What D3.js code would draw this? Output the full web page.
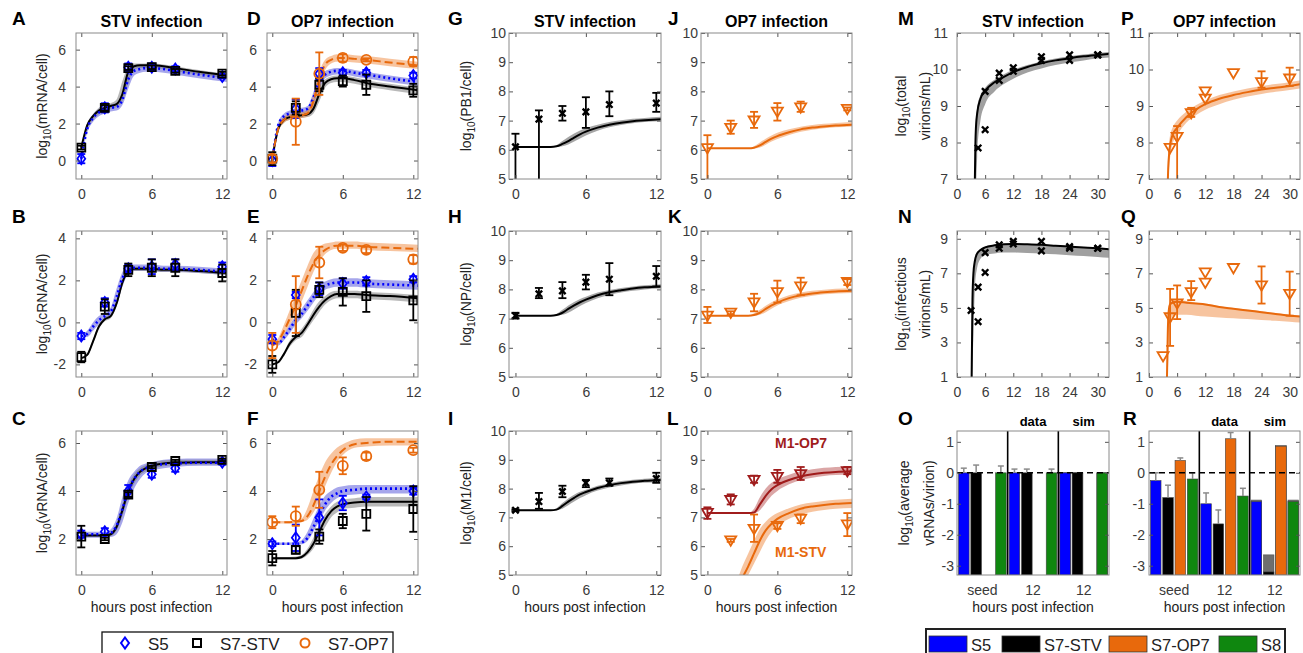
<!DOCTYPE html>
<html>
<head>
<meta charset="utf-8">
<script src="https://cdn.jsdelivr.net/npm/d3@7"></script>
<style>
body { margin: 0; background: #fff; }
</style>
</head>
<body>
<svg id="chart" width="1303" height="653"></svg>
<script>
// ---------- data ----------
var tObs = [0, 2, 4, 6, 8, 12];
var tRna = [0, 0.5, 1, 1.5, 2, 2.5, 3, 3.5, 4, 4.5, 5, 5.5, 6, 7, 8, 10, 12.4];
var tProt = [0, 1, 2, 3, 3.5, 4, 4.5, 5, 5.5, 6, 7, 8, 9, 10, 11, 12.4];

// A: mRNA, STV infection
var A_S5 = [0.1, 2.85, 5.05, 5.05, 4.95, 4.55], A_S5err = [0.25, 0.25, 0.2, 0.2, 0.15, 0.1];
var A_STV = [0.7, 2.85, 5.0, 5.05, 4.85, 4.7], A_STVerr = [0.1, 0.15, 0.1, 0.1, 0.1, 0.1];
var simA_STV = [0.7,1.9,2.4,2.7,2.85,2.95,3.05,3.6,4.8,5.1,5.15,5.15,5.15,5.1,5.0,4.8,4.6];
var simA_STVlo = [0.7,1.7,2.2,2.5,2.7,2.8,2.9,3.2,4.2,4.9,5.0,5.0,5.0,4.95,4.85,4.65,4.45];
var simA_STVhi = [0.7,2.0,2.5,2.85,3.0,3.1,3.3,4.3,5.1,5.25,5.25,5.25,5.25,5.2,5.1,4.9,4.7];
var simA_S5 = [0.1,1.7,2.3,2.6,2.75,2.85,2.9,3.3,4.4,4.85,4.95,5.0,5.0,4.95,4.85,4.65,4.45];
var simA_S5lo = [0.1,1.5,2.1,2.4,2.55,2.65,2.7,3.0,3.9,4.6,4.75,4.8,4.8,4.75,4.65,4.45,4.25];
var simA_S5hi = [0.1,1.9,2.5,2.8,2.95,3.05,3.1,3.6,4.8,5.05,5.1,5.15,5.15,5.1,5.0,4.8,4.6];

// D: mRNA, OP7 infection
var D_S5 = [0.0, 2.8, 4.7, 4.75, 4.75, 4.6], D_S5err = [0.3, 0.5, 0.3, 0.15, 0.15, 0.15];
var D_STV = [0.1, 2.85, 4.1, 4.3, 4.1, 3.8], D_STVerr = [0.35, 0.35, 0.35, 0.3, 0.55, 0.35];
var D_OP7 = [0.1, 2.1, 4.7, 5.55, 5.45, 5.35], D_OP7err = [0.2, 1.25, 1.15, 0.2, 0.08, 0.25];
var simD_STV = [0.1,1.7,2.2,2.35,2.4,2.45,2.5,2.8,3.6,4.2,4.4,4.45,4.45,4.35,4.2,4.0,3.8];
var simD_STVlo = [0.1,1.55,2.05,2.2,2.25,2.3,2.35,2.55,3.2,3.95,4.2,4.25,4.25,4.15,4.0,3.8,3.6];
var simD_STVhi = [0.1,1.85,2.35,2.5,2.55,2.6,2.7,3.2,4.0,4.4,4.55,4.6,4.6,4.5,4.35,4.15,3.95];
var simD_S5 = [0.0,1.9,2.4,2.55,2.65,2.7,2.8,3.4,4.3,4.65,4.8,4.85,4.85,4.75,4.65,4.45,4.25];
var simD_S5lo = [0.0,1.75,2.25,2.4,2.5,2.55,2.65,3.1,3.9,4.45,4.6,4.65,4.65,4.55,4.45,4.25,4.05];
var simD_S5hi = [0.0,2.05,2.55,2.7,2.8,2.85,2.95,3.7,4.6,4.85,4.95,5.0,5.0,4.9,4.8,4.6,4.4];
var simD_OP7 = [0.1,1.7,2.2,2.35,2.4,2.45,2.55,3.2,4.4,5.2,5.45,5.55,5.55,5.5,5.45,5.3,5.15];
var simD_OP7lo = [0.1,1.55,2.05,2.2,2.25,2.3,2.4,2.9,4.0,4.9,5.25,5.35,5.35,5.3,5.25,5.1,4.95];
var simD_OP7hi = [0.1,1.85,2.35,2.5,2.55,2.6,2.75,3.6,4.8,5.45,5.65,5.75,5.75,5.7,5.65,5.5,5.35];

// B: cRNA, STV infection
var B_S5 = [-0.65, 0.95, 2.55, 2.65, 2.75, 2.65], B_S5err = [0.15, 0.2, 0.2, 0.35, 0.25, 0.2];
var B_STV = [-1.65, 0.75, 2.5, 2.6, 2.6, 2.35], B_STVerr = [0.25, 0.35, 0.3, 0.4, 0.4, 0.4];
var simB_STV = [-1.7,-1.55,-0.9,-0.2,0.15,0.3,0.9,1.9,2.45,2.55,2.55,2.55,2.55,2.5,2.5,2.45,2.35];
var simB_STVlo = [-1.7,-1.6,-1.0,-0.3,0.05,0.2,0.75,1.75,2.35,2.45,2.45,2.45,2.45,2.4,2.4,2.35,2.25];
var simB_STVhi = [-1.7,-1.5,-0.8,-0.1,0.25,0.4,1.05,2.05,2.55,2.65,2.65,2.65,2.65,2.6,2.6,2.55,2.45];
var simB_S5 = [-0.65,-0.55,-0.2,0.1,0.3,0.5,1.2,2.1,2.5,2.6,2.6,2.6,2.6,2.55,2.55,2.5,2.4];
var simB_S5lo = [-0.65,-0.7,-0.4,-0.1,0.15,0.3,0.8,1.7,2.3,2.45,2.45,2.45,2.45,2.4,2.4,2.35,2.25];
var simB_S5hi = [-0.65,-0.4,0.0,0.3,0.45,0.7,1.6,2.4,2.7,2.75,2.75,2.75,2.75,2.7,2.7,2.65,2.55];

// E: cRNA, OP7 infection
var E_S5 = [-0.8, 1.3, 1.6, 1.85, 1.95, 2.05], E_S5err = [0.2, 0.15, 0.3, 0.25, 0.2, 0.15];
var E_STV = [-2.0, 0.45, 1.55, 1.45, 1.25, 1.05], E_STVerr = [0.4, 1.1, 0.35, 0.65, 0.75, 0.95];
var E_OP7 = [-1.1, 0.85, 2.85, 3.55, 3.45, 3.0], E_OP7err = [0.6, 1.35, 0.75, 0.15, 0.15, 0.2];
var simE_OP7 = [-1.1,-0.9,-0.4,0.2,0.8,1.5,2.2,2.8,3.2,3.45,3.6,3.65,3.65,3.65,3.6,3.55,3.5];
var simE_OP7lo = [-1.1,-1.05,-0.6,-0.1,0.4,1.0,1.7,2.4,2.9,3.25,3.45,3.5,3.5,3.5,3.45,3.4,3.35];
var simE_OP7hi = [-1.1,-0.75,-0.1,0.6,1.3,2.0,2.7,3.3,3.6,3.75,3.8,3.85,3.85,3.85,3.8,3.75,3.7];
var simE_S5 = [-0.8,-1.0,-0.7,-0.3,0.1,0.4,0.8,1.2,1.55,1.75,1.85,1.9,1.9,1.9,1.85,1.8,1.75];
var simE_S5lo = [-0.8,-1.1,-0.85,-0.5,-0.1,0.2,0.55,0.95,1.3,1.55,1.65,1.7,1.7,1.7,1.65,1.6,1.55];
var simE_S5hi = [-0.8,-0.9,-0.55,-0.1,0.3,0.65,1.05,1.45,1.8,1.95,2.05,2.1,2.1,2.1,2.05,2.0,1.95];
var simE_STV = [-2.0,-1.9,-1.5,-1.0,-0.7,-0.5,-0.1,0.35,0.75,1.05,1.25,1.35,1.35,1.35,1.3,1.25,1.15];
var simE_STVlo = [-2.0,-1.95,-1.6,-1.15,-0.85,-0.7,-0.3,0.1,0.5,0.85,1.05,1.15,1.15,1.15,1.1,1.05,0.95];
var simE_STVhi = [-2.0,-1.85,-1.4,-0.85,-0.55,-0.3,0.1,0.6,1.0,1.25,1.45,1.5,1.5,1.5,1.45,1.4,1.3];

// C: vRNA, STV infection
var C_S5 = [2.2, 2.3, 4.0, 4.7, 4.95, 5.2], C_S5err = [0.15, 0.15, 0.25, 0.15, 0.15, 0.1];
var C_STV = [2.1, 2.0, 3.85, 5.0, 5.25, 5.3], C_STVerr = [0.45, 0.05, 0.1, 0.05, 0.05, 0.05];
var simC_STV = [2.15,2.15,2.15,2.15,2.15,2.2,2.5,3.2,4.0,4.5,4.8,4.95,5.05,5.15,5.18,5.2,5.2];
var simC_STVlo = [2.1,2.1,2.1,2.1,2.1,2.12,2.35,2.95,3.75,4.3,4.65,4.82,4.92,5.03,5.07,5.1,5.1];
var simC_STVhi = [2.2,2.2,2.2,2.2,2.2,2.28,2.65,3.45,4.25,4.7,4.95,5.08,5.18,5.27,5.3,5.3,5.3];
var simC_S5 = [2.2,2.2,2.2,2.2,2.2,2.25,2.55,3.25,4.05,4.5,4.8,4.95,5.05,5.12,5.15,5.18,5.18];
var simC_S5lo = [2.05,2.05,2.05,2.05,2.05,2.08,2.2,2.7,3.5,4.1,4.5,4.75,4.85,4.95,5.0,5.05,5.05];
var simC_S5hi = [2.3,2.3,2.3,2.3,2.3,2.4,2.85,3.75,4.45,4.8,5.05,5.15,5.2,5.3,5.33,5.35,5.35];

// F: vRNA, OP7 infection
var F_S5 = [1.8, 2.05, 2.9, 3.5, 3.75, 4.0], F_S5err = [0.1, 0.55, 0.75, 0.3, 0.1, 0.15];
var F_STV = [1.2, 1.55, 2.1, 2.75, 3.05, 3.25], F_STVerr = [0.3, 0.15, 0.3, 0.3, 0.7, 0.95];
var F_OP7 = [2.7, 2.95, 4.05, 5.05, 5.45, 5.7], F_OP7err = [0.25, 0.4, 0.75, 0.35, 0.15, 0.1];
var simF_OP7 = [2.7,2.7,2.7,2.7,2.72,2.75,2.95,3.4,4.0,4.6,5.1,5.45,5.7,5.95,6.0,6.05,6.05];
var simF_OP7lo = [2.65,2.65,2.65,2.65,2.67,2.7,2.8,3.1,3.6,4.2,4.75,5.2,5.5,5.8,5.85,5.9,5.9];
var simF_OP7hi = [2.75,2.75,2.75,2.75,2.77,2.85,3.3,4.0,4.65,5.2,5.55,5.8,5.95,6.15,6.2,6.2,6.2];
var simF_S5 = [1.8,1.8,1.8,1.8,1.8,1.85,2.05,2.5,3.0,3.45,3.75,3.9,4.0,4.05,4.1,4.1,4.1];
var simF_S5lo = [1.75,1.75,1.75,1.75,1.75,1.78,1.92,2.3,2.75,3.2,3.5,3.7,3.8,3.85,3.9,3.9,3.9];
var simF_S5hi = [1.85,1.85,1.85,1.85,1.87,1.95,2.3,2.85,3.4,3.8,4.0,4.15,4.2,4.25,4.25,4.25,4.25];
var simF_STV = [1.2,1.2,1.2,1.2,1.2,1.25,1.45,1.8,2.3,2.8,3.15,3.35,3.45,3.52,3.55,3.55,3.55];
var simF_STVlo = [1.15,1.15,1.15,1.15,1.15,1.18,1.33,1.6,2.05,2.5,2.9,3.1,3.25,3.3,3.35,3.35,3.35];
var simF_STVhi = [1.25,1.25,1.25,1.25,1.27,1.33,1.6,2.05,2.6,3.05,3.35,3.55,3.65,3.7,3.75,3.75,3.75];

// G-L: proteins (obs value, lower and upper error bar ends)
var G_obs = [6.1, 7.05, 7.25, 7.3, 7.55, 7.6], G_lo = [4.5, 4.5, 7.0, 6.75, 7.15, 7.3], G_hi = [6.55, 7.35, 7.5, 7.8, 8.0, 7.95];
var H_obs = [7.1, 7.85, 7.95, 8.25, 8.35, 8.45], H_lo = [7.0, 7.7, 7.7, 8.0, 7.8, 8.1], H_hi = [7.2, 8.05, 8.25, 8.5, 8.9, 8.8];
var I_obs = [7.25, 7.55, 7.9, 8.2, 8.2, 8.35], I_lo = [7.22, 7.3, 7.7, 8.05, 8.1, 8.2], I_hi = [7.28, 7.85, 8.1, 8.3, 8.35, 8.55];
var J_obs = [6.05, 6.75, 7.0, 7.3, 7.45, 7.4], J_lo = [4.5, 6.55, 6.75, 7.0, 7.3, 7.35], J_hi = [6.5, 7.0, 7.3, 7.6, 7.65, 7.45];
var K_obs = [7.1, 7.2, 7.55, 7.9, 8.1, 8.25], K_lo = [6.85, 7.15, 7.25, 7.55, 7.8, 8.15], K_hi = [7.4, 7.25, 7.85, 8.3, 8.4, 8.35];
var L_OP7 = [7.15, 7.6, 8.3, 8.4, 8.5, 8.6], L_OP7lo = [6.95, 7.45, 8.2, 8.2, 8.3, 8.5], L_OP7hi = [7.35, 7.8, 8.45, 8.65, 8.75, 8.75];
var L_STV = [null, 6.2, 6.6, 6.7, 6.95, 6.75], L_STVlo = [null, 6.15, 6.15, 6.6, 6.8, 6.35], L_STVhi = [null, 6.25, 7.1, 6.8, 7.1, 7.15];
var simG = [6.1,6.1,6.1,6.1,6.12,6.2,6.3,6.42,6.53,6.62,6.76,6.86,6.93,6.98,7.01,7.05];
var simGlo = [6.1,6.1,6.1,6.1,6.1,6.12,6.18,6.28,6.39,6.49,6.65,6.77,6.85,6.91,6.95,6.98];
var simGhi = [6.1,6.1,6.1,6.1,6.16,6.3,6.44,6.56,6.66,6.74,6.86,6.95,7.01,7.06,7.09,7.13];
var simH = [7.1,7.1,7.1,7.1,7.12,7.2,7.33,7.45,7.56,7.65,7.8,7.9,7.97,8.03,8.07,8.1];
var simHlo = [7.1,7.1,7.1,7.1,7.1,7.13,7.2,7.31,7.43,7.53,7.7,7.81,7.89,7.95,8.0,8.03];
var simHhi = [7.1,7.1,7.1,7.1,7.16,7.3,7.45,7.57,7.67,7.75,7.89,7.98,8.05,8.1,8.14,8.18];
var simI = [7.25,7.25,7.25,7.25,7.27,7.4,7.55,7.68,7.8,7.88,8.02,8.12,8.19,8.24,8.27,8.3];
var simIlo = [7.25,7.25,7.25,7.25,7.25,7.3,7.42,7.55,7.67,7.77,7.93,8.04,8.11,8.17,8.2,8.23];
var simIhi = [7.25,7.25,7.25,7.25,7.32,7.5,7.66,7.79,7.89,7.96,8.1,8.19,8.26,8.31,8.34,8.38];
var simJ = [6.05,6.05,6.05,6.05,6.05,6.07,6.15,6.27,6.38,6.47,6.6,6.7,6.76,6.8,6.83,6.86];
var simJlo = [6.05,6.05,6.05,6.05,6.05,6.05,6.08,6.17,6.28,6.37,6.51,6.62,6.69,6.74,6.77,6.8];
var simJhi = [6.05,6.05,6.05,6.05,6.05,6.12,6.25,6.38,6.49,6.58,6.7,6.79,6.85,6.89,6.92,6.95];
var simK = [7.1,7.1,7.1,7.1,7.1,7.12,7.2,7.33,7.45,7.55,7.7,7.8,7.86,7.9,7.93,7.95];
var simKlo = [7.1,7.1,7.1,7.1,7.1,7.1,7.13,7.22,7.34,7.45,7.6,7.71,7.78,7.83,7.86,7.88];
var simKhi = [7.1,7.1,7.1,7.1,7.1,7.18,7.3,7.44,7.56,7.65,7.8,7.89,7.95,7.99,8.02,8.04];
var simL_OP7 = [7.15,7.15,7.15,7.15,7.15,7.17,7.45,7.75,7.98,8.12,8.3,8.42,8.5,8.55,8.58,8.6];
var simL_OP7lo = [7.15,7.15,7.15,7.15,7.15,7.15,7.25,7.5,7.75,7.92,8.15,8.3,8.38,8.44,8.47,8.5];
var simL_OP7hi = [7.15,7.15,7.15,7.15,7.15,7.3,7.7,8.0,8.2,8.32,8.48,8.6,8.67,8.72,8.75,8.78];
var simL_STV = [2.5,3.3,4.0,4.9,5.3,5.75,6.2,6.55,6.78,6.95,7.15,7.3,7.38,7.43,7.47,7.5];
var simL_STVlo = [2.3,3.1,3.8,4.6,5.0,5.4,5.8,6.2,6.5,6.7,6.95,7.1,7.2,7.26,7.3,7.33];
var simL_STVhi = [2.7,3.5,4.2,5.3,5.75,6.2,6.6,6.85,7.03,7.15,7.32,7.45,7.52,7.57,7.61,7.65];

// M-Q: virions
var tVir = [3, 4.5, 6, 9, 12, 18, 24, 30];
var M_rep1 = [null, 7.85, 9.4, 9.9, 10.05, 10.35, 10.4, 10.4];
var M_rep2 = [null, null, 8.35, 9.7, 9.95, 10.25, 10.25, 10.4];
var N_rep1 = [4.85, 6.2, 8.2, 8.65, 8.85, 8.85, 8.55, 8.45];
var N_rep2 = [null, 4.2, 7.05, 8.45, 8.7, 8.3, 8.45, 8.45];
var tM = [3.8, 3.9, 4.0, 4.3, 5, 6, 8, 10, 12, 15, 18, 21, 24, 27, 30, 32.4];
var simM = [6.9, 7.8, 8.3, 8.8, 9.2, 9.42, 9.65, 9.8, 9.93, 10.07, 10.17, 10.25, 10.31, 10.36, 10.4, 10.43];
var simMlo = [5.5, 6.0, 6.5, 7.6, 8.6, 9.05, 9.4, 9.6, 9.75, 9.92, 10.03, 10.12, 10.19, 10.25, 10.3, 10.33];
var simMhi = [7.2, 8.1, 8.5, 8.95, 9.3, 9.5, 9.72, 9.87, 9.99, 10.12, 10.22, 10.3, 10.36, 10.41, 10.45, 10.48];
var tN = [3.1, 3.2, 3.3, 3.5, 3.8, 4.2, 5, 6, 8, 10, 12, 15, 18, 21, 24, 27, 30, 32.4];
var simN = [0.5, 3.0, 5.5, 7.0, 7.7, 8.1, 8.35, 8.5, 8.62, 8.68, 8.7, 8.68, 8.65, 8.6, 8.55, 8.5, 8.45, 8.4];
var simNlo = [0.5, 0.8, 1.5, 3.5, 6.0, 7.2, 7.85, 8.05, 8.15, 8.2, 8.2, 8.18, 8.15, 8.1, 8.05, 8.0, 7.95, 7.9];
var simNhi = [0.5, 3.2, 5.8, 7.2, 7.9, 8.2, 8.4, 8.55, 8.65, 8.7, 8.72, 8.7, 8.67, 8.62, 8.57, 8.52, 8.47, 8.42];
var tP_obs = [4.5, 6, 9, 12, 12, 18, 24, 30];
var P_obs = [7.85, 8.15, 8.8, 9.2, 9.4, 9.9, 9.65, 9.75];
var P_lo = [7.85, 6.5, 8.7, 9.2, 9.4, 9.9, 9.5, 9.55];
var P_hi = [7.85, 8.45, 8.95, 9.2, 9.4, 9.9, 9.95, 10.05];
var tP = [4.0, 4.1, 4.3, 4.6, 5, 6, 8, 10, 12, 15, 18, 21, 24, 27, 30, 32.4];
var simP = [6.9, 7.3, 7.7, 8.0, 8.2, 8.4, 8.7, 8.9, 9.05, 9.2, 9.3, 9.38, 9.45, 9.5, 9.55, 9.6];
var simPlo = [6.5, 6.9, 7.3, 7.7, 7.95, 8.2, 8.55, 8.75, 8.9, 9.05, 9.17, 9.26, 9.33, 9.39, 9.44, 9.48];
var simPhi = [7.2, 7.6, 8.0, 8.25, 8.4, 8.6, 8.85, 9.02, 9.15, 9.3, 9.4, 9.48, 9.55, 9.6, 9.65, 9.7];
var tQ_obs = [3, 4.5, 6, 9, 12, 12, 18, 24, 30];
var Q_obs = [2.2, 4.45, 5.25, 5.9, 7.05, 6.45, 7.3, 6.3, 5.8];
var Q_lo = [2.2, 2.8, 4.35, 5.45, 7.05, 6.45, 7.3, 5.25, 4.55];
var Q_hi = [2.2, 6.1, 6.3, 6.55, 7.05, 6.45, 7.3, 7.4, 7.1];
var tQ = [3.8, 3.9, 4.0, 4.2, 4.5, 5, 6, 8, 10, 12, 15, 18, 21, 24, 27, 30, 32.4];
var simQ = [0.5, 2.0, 3.5, 4.8, 5.2, 5.3, 5.35, 5.3, 5.25, 5.2, 5.05, 4.95, 4.85, 4.75, 4.65, 4.55, 4.5];
var simQlo = [0.5, 0.8, 1.2, 2.5, 4.0, 4.5, 4.6, 4.6, 4.55, 4.5, 4.45, 4.4, 4.35, 4.3, 4.25, 4.2, 4.15];
var simQhi = [0.5, 2.5, 4.0, 5.1, 5.4, 5.45, 5.45, 5.4, 5.3, 5.25, 5.1, 5.0, 4.9, 4.8, 4.7, 4.6, 4.55];

// O, R: average vRNAs per virion (groups: seed, 12 data, 12 sim)
var barGroups = ["seed", "12", "12"];
var segNames = ["S5", "S7-STV", "S7-OP7", "S8"];
var O_S5 = [0, 0, 0], O_STV = [0, 0, 0], O_OP7 = [null, null, null], O_S8 = [0, 0, 0];
var O_S5err = [0.15, 0.12, 0], O_STVerr = [0.25, 0.12, 0], O_OP7err = [0, 0, 0], O_S8err = [0.22, 0.12, 0];
var O_simTop = [0, 0, null, 0];
var R_S5 = [-0.25, -1.0, -0.93], R_STV = [-0.8, -1.65, -3.2], R_OP7 = [0.4, 1.1, 0.86], R_S8 = [-0.2, -0.75, -0.93];
var R_S5err = [0.25, 0.35, 0], R_STVerr = [0.4, 0.45, 0], R_OP7err = [0.08, 0.2, 0], R_S8err = [0.2, 0.25, 0];
var R_simTop = [-0.88, -2.65, 0.88, -0.88];

// ---------- drawing ----------
var FONT = "'Liberation Sans', Arial, Helvetica, sans-serif";
var COL = { s5: "#0000ff", stv: "#000000", op7: "#e8690c", m1: "#a01c1c", s8: "#0f870f" };
var svg = d3.select("#chart").style("font-family", FONT);

var cols = [[76, 227], [267, 418], [509, 661], [701, 852], [957, 1109], [1149, 1300]];
var rows = [[33, 179], [231, 377], [431, 575]];
var letterY = [25, 223, 425];
var plain = function (d) { return String(d); };

function sub(sel, pre, post) {
    sel.append("tspan").text(pre);
    sel.append("tspan").attr("dy", 4).attr("font-size", 10).text("10");
    sel.append("tspan").attr("dy", -4).text(post);
}

function panel(o) {
    var x0 = cols[o.c][0], x1 = cols[o.c][1], y0 = rows[o.r][0], y1 = rows[o.r][1];
    var x = o.band ? d3.scaleBand().domain(d3.range(3)).range([x0, x1])
                   : d3.scaleLinear().domain(o.xd).range([x0, x1]);
    var y = d3.scaleLinear().domain(o.yd).range([y1, y0]);
    var id = "clip" + o.letter;
    svg.append("clipPath").attr("id", id).append("rect")
        .attr("x", x0).attr("y", y0).attr("width", x1 - x0).attr("height", y1 - y0);
    var g = svg.append("g");
    var plot = g.append("g").attr("clip-path", "url(#" + id + ")");
    var ax = g.append("g");

    if (o.band) {
        ax.append("g").attr("transform", "translate(0," + y1 + ")")
            .call(d3.axisBottom(x).tickSize(0).tickPadding(10).tickFormat(function (i) { return barGroups[i]; }));
    } else {
        ax.append("g").attr("transform", "translate(0," + y1 + ")")
            .call(d3.axisBottom(x).tickValues(o.xt).tickFormat(plain).tickSizeInner(-4).tickSizeOuter(0).tickPadding(10));
        ax.append("g").attr("transform", "translate(0," + y0 + ")")
            .call(d3.axisTop(x).tickValues(o.xt).tickSizeInner(-4).tickSizeOuter(0).tickFormat(""));
    }
    ax.append("g").attr("transform", "translate(" + x0 + ",0)")
        .call(d3.axisLeft(y).tickValues(o.yt).tickFormat(plain).tickSizeInner(-4).tickSizeOuter(0).tickPadding(o.ypad));
    ax.append("g").attr("transform", "translate(" + x1 + ",0)")
        .call(d3.axisRight(y).tickValues(o.yt).tickSizeInner(-4).tickSizeOuter(0).tickFormat(""));
    ax.selectAll(".domain").remove();
    ax.selectAll(".tick line").attr("stroke", "#555");
    ax.selectAll(".tick text").attr("font-size", 14).attr("fill", "#3a3a3a").attr("font-family", FONT);
    ax.append("rect").attr("x", x0).attr("y", y0).attr("width", x1 - x0).attr("height", y1 - y0)
        .attr("fill", "none").attr("stroke", "#8a8a8a").attr("stroke-width", 1);

    // panel letter, title, labels
    svg.append("text").attr("x", o.lx).attr("y", letterY[o.r]).attr("font-size", 19)
        .attr("font-weight", "bold").text(o.letter);
    if (o.title) {
        svg.append("text").attr("x", (x0 + x1) / 2).attr("y", 27).attr("text-anchor", "middle")
            .attr("font-size", 16).attr("font-weight", "bold").text(o.title);
    }
    if (o.ylab) {
        o.ylab.forEach(function (line) {
            var t = svg.append("text").attr("text-anchor", "middle").attr("font-size", 14).attr("fill", "#222")
                .attr("transform", "translate(" + line.x + "," + (y0 + y1) / 2 + ") rotate(-90)");
            if (line.sub) sub(t, "log", line.text); else t.text(line.text);
        });
    }
    if (o.r === 2) {
        svg.append("text").attr("x", (x0 + x1) / 2).attr("y", 612).attr("text-anchor", "middle")
            .attr("font-size", 14).attr("fill", "#222").text("hours post infection");
    }
    return { x: x, y: y, plot: plot, x0: x0, x1: x1, y0: y0, y1: y1 };
}

function band(p, t, lo, hi, color, op) {
    var area = d3.area().curve(d3.curveMonotoneX)
        .x(function (d, i) { return p.x(t[i]); })
        .y0(function (d, i) { return p.y(lo[i]); })
        .y1(function (d, i) { return p.y(hi[i]); });
    p.plot.append("path").datum(t).attr("d", area).attr("fill", color).attr("fill-opacity", op);
}

function simLine(p, t, v, color, dash, w) {
    var line = d3.line().curve(d3.curveMonotoneX)
        .x(function (d, i) { return p.x(t[i]); })
        .y(function (d, i) { return p.y(v[i]); });
    p.plot.append("path").datum(t).attr("d", line).attr("fill", "none").attr("stroke", color)
        .attr("stroke-width", w || 2).attr("stroke-dasharray", dash || null);
}

function shape(kind, r) {
    if (kind === "diamond") return "M0," + (-r) + "L" + (r * 0.72) + ",0L0," + r + "L" + (-r * 0.72) + ",0Z";
    if (kind === "square") return "M" + (-r) + "," + (-r) + "h" + (2 * r) + "v" + (2 * r) + "h" + (-2 * r) + "Z";
    if (kind === "circle") return d3.symbol(d3.symbolCircle, Math.PI * r * r)();
    if (kind === "cross") return "M" + (-r) + "," + (-r) + "L" + r + "," + r + "M" + (-r) + "," + r + "L" + r + "," + (-r);
    return "M" + (-r) + "," + (-r * 0.75) + "L" + r + "," + (-r * 0.75) + "L0," + (r * 0.95) + "Z";
}

function points(p, t, v, lo, hi, color, kind, r) {
    var pts = t.map(function (d, i) {
        return { t: d, v: v[i], lo: lo ? lo[i] : v[i], hi: hi ? hi[i] : v[i] };
    }).filter(function (d) { return d.v != null; });
    var eb = p.plot.append("g").attr("stroke", color).attr("stroke-width", 1.8);
    pts.filter(function (d) { return d.hi > d.lo; }).forEach(function (d) {
        var xx = p.x(d.t);
        eb.append("line").attr("x1", xx).attr("x2", xx).attr("y1", p.y(d.lo)).attr("y2", p.y(d.hi));
        eb.append("line").attr("x1", xx - 4).attr("x2", xx + 4).attr("y1", p.y(d.lo)).attr("y2", p.y(d.lo));
        eb.append("line").attr("x1", xx - 4).attr("x2", xx + 4).attr("y1", p.y(d.hi)).attr("y2", p.y(d.hi));
    });
    p.plot.append("g").selectAll("path").data(pts).join("path")
        .attr("transform", function (d) { return "translate(" + p.x(d.t) + "," + p.y(d.v) + ")"; })
        .attr("d", shape(kind, r)).attr("fill", "none").attr("stroke", color)
        .attr("stroke-width", kind === "cross" ? 2.4 : 1.8);
}

function pm(v, e, s) { return v.map(function (d, i) { return d + s * e[i]; }); }

var GRAY = "#808080", BLUEB = "#2a2ad0", ORB = "#f08a40";

// ---- column 1 & 2: RNA ----
var rnaPanels = [
    { letter: "A", c: 0, r: 0, lx: 12, title: "STV infection", yd: [-1, 6.9], yt: [0, 2, 4, 6], ylab: "(mRNA/cell)",
      S5: [A_S5, A_S5err, simA_S5, simA_S5lo, simA_S5hi], STV: [A_STV, A_STVerr, simA_STV, simA_STVlo, simA_STVhi] },
    { letter: "D", c: 1, r: 0, lx: 247, title: "OP7 infection", yd: [-1, 6.9], yt: [0, 2, 4, 6],
      S5: [D_S5, D_S5err, simD_S5, simD_S5lo, simD_S5hi], STV: [D_STV, D_STVerr, simD_STV, simD_STVlo, simD_STVhi],
      OP7: [D_OP7, D_OP7err, simD_OP7, simD_OP7lo, simD_OP7hi] },
    { letter: "B", c: 0, r: 1, lx: 12, yd: [-2.6, 4.35], yt: [-2, 0, 2, 4], ylab: "(cRNA/cell)",
      S5: [B_S5, B_S5err, simB_S5, simB_S5lo, simB_S5hi], STV: [B_STV, B_STVerr, simB_STV, simB_STVlo, simB_STVhi] },
    { letter: "E", c: 1, r: 1, lx: 247, yd: [-2.6, 4.35], yt: [-2, 0, 2, 4],
      S5: [E_S5, E_S5err, simE_S5, simE_S5lo, simE_S5hi], STV: [E_STV, E_STVerr, simE_STV, simE_STVlo, simE_STVhi],
      OP7: [E_OP7, E_OP7err, simE_OP7, simE_OP7lo, simE_OP7hi] },
    { letter: "C", c: 0, r: 2, lx: 12, yd: [0.5, 6.5], yt: [2, 4, 6], ylab: "(vRNA/cell)",
      S5: [C_S5, C_S5err, simC_S5, simC_S5lo, simC_S5hi], STV: [C_STV, C_STVerr, simC_STV, simC_STVlo, simC_STVhi] },
    { letter: "F", c: 1, r: 2, lx: 247, yd: [0.5, 6.5], yt: [2, 4, 6],
      S5: [F_S5, F_S5err, simF_S5, simF_S5lo, simF_S5hi], STV: [F_STV, F_STVerr, simF_STV, simF_STVlo, simF_STVhi],
      OP7: [F_OP7, F_OP7err, simF_OP7, simF_OP7lo, simF_OP7hi] }
];
rnaPanels.forEach(function (o) {
    var p = panel({ letter: o.letter, c: o.c, r: o.r, lx: o.lx, title: o.title, xd: [-0.45, 12.4], xt: [0, 6, 12],
        yd: o.yd, yt: o.yt, ypad: 10, ylab: o.ylab ? [{ x: 47, sub: true, text: o.ylab }] : null });
    band(p, tRna, o.S5[3], o.S5[4], BLUEB, 0.42);
    band(p, tRna, o.STV[3], o.STV[4], GRAY, 0.55);
    if (o.OP7) band(p, tRna, o.OP7[3], o.OP7[4], ORB, 0.5);
    simLine(p, tRna, o.STV[2], COL.stv, null, 2);
    simLine(p, tRna, o.S5[2], COL.s5, "2,3", 2.6);
    if (o.OP7) simLine(p, tRna, o.OP7[2], COL.op7, "8,4", 2);
    points(p, tObs, o.S5[0], pm(o.S5[0], o.S5[1], -1), pm(o.S5[0], o.S5[1], 1), COL.s5, "diamond", 5.5);
    points(p, tObs, o.STV[0], pm(o.STV[0], o.STV[1], -1), pm(o.STV[0], o.STV[1], 1), COL.stv, "square", 4);
    if (o.OP7) points(p, tObs, o.OP7[0], pm(o.OP7[0], o.OP7[1], -1), pm(o.OP7[0], o.OP7[1], 1), COL.op7, "circle", 5);
});

// ---- column 3 & 4: proteins ----
var protPanels = [
    { letter: "G", c: 2, r: 0, lx: 448, title: "STV infection", ylab: "(PB1/cell)", obs: [G_obs, G_lo, G_hi], sim: [simG, simGlo, simGhi], col: COL.stv },
    { letter: "H", c: 2, r: 1, lx: 448, ylab: "(NP/cell)", obs: [H_obs, H_lo, H_hi], sim: [simH, simHlo, simHhi], col: COL.stv },
    { letter: "I", c: 2, r: 2, lx: 448, ylab: "(M1/cell)", obs: [I_obs, I_lo, I_hi], sim: [simI, simIlo, simIhi], col: COL.stv },
    { letter: "J", c: 3, r: 0, lx: 668, title: "OP7 infection", obs: [J_obs, J_lo, J_hi], sim: [simJ, simJlo, simJhi], col: COL.op7 },
    { letter: "K", c: 3, r: 1, lx: 668, obs: [K_obs, K_lo, K_hi], sim: [simK, simKlo, simKhi], col: COL.op7 }
];
protPanels.forEach(function (o) {
    var p = panel({ letter: o.letter, c: o.c, r: o.r, lx: o.lx, title: o.title, xd: [-0.55, 12.4], xt: [0, 6, 12],
        yd: [5, 10], yt: [5, 6, 7, 8, 9, 10], ypad: 3, ylab: o.ylab ? [{ x: 471, sub: true, text: o.ylab }] : null });
    band(p, tProt, o.sim[1], o.sim[2], o.col === COL.stv ? GRAY : ORB, o.col === COL.stv ? 0.7 : 0.5);
    simLine(p, tProt, o.sim[0], o.col, null, 2);
    points(p, tObs, o.obs[0], o.obs[1], o.obs[2], o.col, o.col === COL.stv ? "cross" : "tri", o.col === COL.stv ? 3.2 : 5.5);
});
(function () {
    var p = panel({ letter: "L", c: 3, r: 2, lx: 667, xd: [-0.55, 12.4], xt: [0, 6, 12], yd: [5, 10], yt: [5, 6, 7, 8, 9, 10], ypad: 3 });
    band(p, tProt, simL_OP7lo, simL_OP7hi, "#b03a3a", 0.45);
    band(p, tProt, simL_STVlo, simL_STVhi, ORB, 0.5);
    simLine(p, tProt, simL_OP7, COL.m1, null, 2);
    simLine(p, tProt, simL_STV, COL.op7, null, 2);
    points(p, tObs, L_OP7, L_OP7lo, L_OP7hi, COL.m1, "tri", 5.5);
    points(p, tObs, L_STV, L_STVlo, L_STVhi, COL.op7, "tri", 5.5);
    svg.append("text").attr("x", 775).attr("y", 448).attr("font-size", 14).attr("font-weight", "bold")
        .attr("fill", COL.m1).text("M1-OP7");
    svg.append("text").attr("x", 775).attr("y", 557).attr("font-size", 14).attr("font-weight", "bold")
        .attr("fill", COL.op7).text("M1-STV");
})();

// ---- column 5 & 6: virions ----
(function () {
    var xt = [0, 6, 12, 18, 24, 30];
    var m = panel({ letter: "M", c: 4, r: 0, lx: 898, title: "STV infection", xd: [0, 32.4], xt: xt, yd: [7, 11], yt: [7, 8, 9, 10, 11],
        ypad: 9, ylab: [{ x: 906, sub: true, text: "(total" }, { x: 930, text: "virions/mL)" }] });
    band(m, tM, simMlo, simMhi, GRAY, 0.75);
    simLine(m, tM, simM, COL.stv, null, 2);
    points(m, tVir, M_rep1, null, null, COL.stv, "cross", 3.2);
    points(m, tVir, M_rep2, null, null, COL.stv, "cross", 3.2);

    var n = panel({ letter: "N", c: 4, r: 1, lx: 898, xd: [0, 32.4], xt: xt, yd: [1, 9.45], yt: [1, 3, 5, 7, 9],
        ypad: 9, ylab: [{ x: 906, sub: true, text: "(infectious" }, { x: 930, text: "virions/mL)" }] });
    band(n, tN, simNlo, simNhi, GRAY, 0.75);
    simLine(n, tN, simN, COL.stv, null, 2);
    points(n, tVir, N_rep1, null, null, COL.stv, "cross", 3.2);
    points(n, tVir, N_rep2, null, null, COL.stv, "cross", 3.2);

    var pp = panel({ letter: "P", c: 5, r: 0, lx: 1121, title: "OP7 infection", xd: [0, 32.2], xt: xt, yd: [7, 11], yt: [7, 8, 9, 10, 11], ypad: 5 });
    band(pp, tP, simPlo, simPhi, ORB, 0.5);
    simLine(pp, tP, simP, COL.op7, null, 2);
    points(pp, tP_obs, P_obs, P_lo, P_hi, COL.op7, "tri", 5.5);

    var q = panel({ letter: "Q", c: 5, r: 1, lx: 1121, xd: [0, 32.2], xt: xt, yd: [1, 9.45], yt: [1, 3, 5, 7, 9], ypad: 6 });
    band(q, tQ, simQlo, simQhi, ORB, 0.5);
    simLine(q, tQ, simQ, COL.op7, null, 2);
    points(q, tQ_obs, Q_obs, Q_lo, Q_hi, COL.op7, "tri", 5.5);
})();

// ---- bar panels O and R ----
function bars(p, series, simTop) {
    var inner = d3.scaleBand().domain(d3.range(series.length)).range([0, p.x.bandwidth()])
        .paddingInner(0.14).paddingOuter(0.12);
    series.forEach(function (s, si) {
        s.vals.forEach(function (v, gi) {
            if (v == null) return;
            var bx = p.x(gi) + inner(si), bw = inner.bandwidth();
            if (gi === 2 && simTop[si] != null) {
                p.plot.append("rect").attr("x", bx).attr("width", bw).attr("y", p.y(simTop[si]))
                    .attr("height", p.y1 - p.y(simTop[si])).attr("fill", "#6e6e6e").attr("stroke", "#555").attr("stroke-width", 0.6);
            }
            p.plot.append("rect").attr("x", bx).attr("width", bw).attr("y", p.y(v))
                .attr("height", p.y1 - p.y(v)).attr("fill", s.color).attr("stroke", "#444").attr("stroke-width", 0.6);
            if (s.err[gi] > 0) {
                var cx = bx + bw / 2;
                p.plot.append("line").attr("x1", cx).attr("x2", cx).attr("y1", p.y(v)).attr("y2", p.y(v + s.err[gi]))
                    .attr("stroke", "#8a8a8a").attr("stroke-width", 1.5);
                p.plot.append("line").attr("x1", cx - 3).attr("x2", cx + 3).attr("y1", p.y(v + s.err[gi])).attr("y2", p.y(v + s.err[gi]))
                    .attr("stroke", "#8a8a8a").attr("stroke-width", 1.5);
            }
        });
    });
    p.plot.append("line").attr("x1", p.x0).attr("x2", p.x1).attr("y1", p.y(0)).attr("y2", p.y(0))
        .attr("stroke", "#000").attr("stroke-width", 1.4).attr("stroke-dasharray", "6,4");
    [1, 2].forEach(function (gi) {
        p.plot.append("line").attr("x1", p.x(gi)).attr("x2", p.x(gi)).attr("y1", p.y0).attr("y2", p.y1)
            .attr("stroke", "#000").attr("stroke-width", 1.6);
    });
    ["data", "sim"].forEach(function (lab, k) {
        svg.append("text").attr("x", p.x(k + 1) + p.x.bandwidth() / 2).attr("y", 426).attr("text-anchor", "middle")
            .attr("font-size", 13).attr("font-weight", "bold").text(lab);
    });
}
(function () {
    var o = panel({ letter: "O", c: 4, r: 2, lx: 898, band: true, yd: [-3.3, 1.35], yt: [-3, -2, -1, 0, 1], ypad: 3,
        ylab: [{ x: 909, sub: true, text: "(average" }, { x: 934, text: "vRNAs/virion)" }] });
    bars(o, [
        { vals: O_S5, err: O_S5err, color: COL.s5 },
        { vals: O_STV, err: O_STVerr, color: COL.stv },
        { vals: O_OP7, err: O_OP7err, color: COL.op7 },
        { vals: O_S8, err: O_S8err, color: COL.s8 }
    ], O_simTop);
    var r = panel({ letter: "R", c: 5, r: 2, lx: 1123, band: true, yd: [-3.3, 1.35], yt: [-3, -2, -1, 0, 1], ypad: 4 });
    bars(r, [
        { vals: R_S5, err: R_S5err, color: COL.s5 },
        { vals: R_STV, err: R_STVerr, color: COL.stv },
        { vals: R_OP7, err: R_OP7err, color: COL.op7 },
        { vals: R_S8, err: R_S8err, color: COL.s8 }
    ], R_simTop);
})();

// ---- legends ----
(function () {
    var lg = svg.append("g");
    lg.append("rect").attr("x", 102).attr("y", 632).attr("width", 291).attr("height", 30)
        .attr("fill", "#fff").attr("stroke", "#111").attr("stroke-width", 1.3);
    var items = [{ k: "diamond", c: COL.s5, x: 125, r: 5.5 }, { k: "square", c: COL.stv, x: 197, r: 4 }, { k: "circle", c: COL.op7, x: 305, r: 4.5 }];
    var tx = [148, 220, 328];
    ["S5", "S7-STV", "S7-OP7"].forEach(function (name, i) {
        lg.append("path").attr("transform", "translate(" + items[i].x + ",643)").attr("d", shape(items[i].k, items[i].r))
            .attr("fill", "none").attr("stroke", items[i].c).attr("stroke-width", 2);
        lg.append("text").attr("x", tx[i]).attr("y", 650).attr("font-size", 17).attr("fill", "#222").text(name);
    });

    var lg2 = svg.append("g");
    lg2.append("rect").attr("x", 926).attr("y", 629).attr("width", 359).attr("height", 32)
        .attr("fill", "#fff").attr("stroke", "#222").attr("stroke-width", 2);
    var sw = [929, 1002, 1109, 1219];
    var cs = [COL.s5, COL.stv, COL.op7, COL.s8];
    segNames.forEach(function (name, i) {
        lg2.append("rect").attr("x", sw[i]).attr("y", 636).attr("width", 38).attr("height", 16)
            .attr("fill", cs[i]).attr("stroke", "#333").attr("stroke-width", 0.8);
        lg2.append("text").attr("x", sw[i] + 42).attr("y", 651).attr("font-size", 16.5).attr("fill", "#222").text(name);
    });
})();
</script>
</body>
</html>
